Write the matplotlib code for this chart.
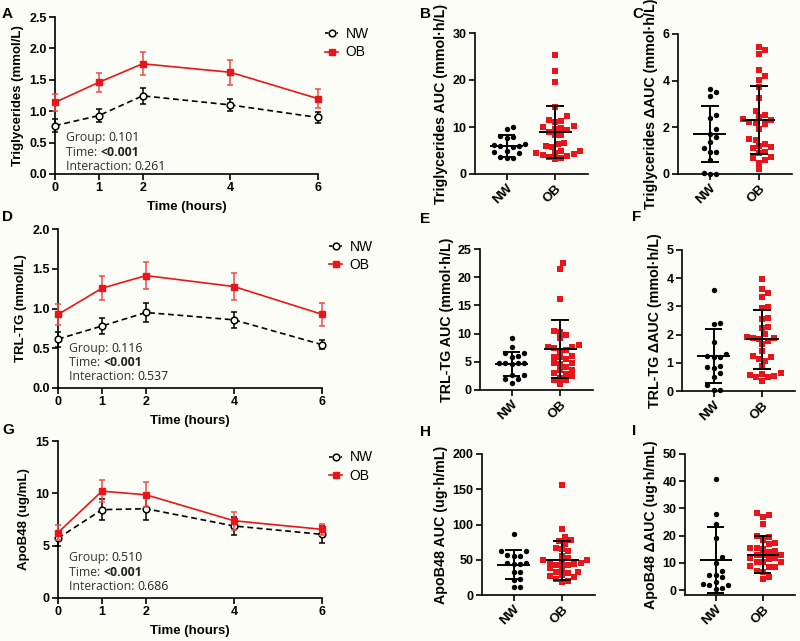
import matplotlib
matplotlib.use("Agg")
import numpy as np
import matplotlib.pyplot as plt
from matplotlib.lines import Line2D

plt.rcParams['font.family'] = ['Liberation Sans', 'DejaVu Sans']

W, H = 800, 641
BG = '#fdfdf8'
RED = '#e8161b'
RED_ERR = '#ee4a4a'

# ------------------ DATA ------------------

hours = [0, 1, 2, 4, 6]

tg_nw = [0.77, 0.93, 1.245, 1.10, 0.90]
tg_nw_se = [0.10, 0.10, 0.13, 0.10, 0.085]
tg_ob = [1.14, 1.46, 1.755, 1.62, 1.20]
tg_ob_se = [0.135, 0.155, 0.185, 0.20, 0.15]

trl_nw = [0.615, 0.78, 0.95, 0.857, 0.545]
trl_nw_se = [0.095, 0.095, 0.12, 0.105, 0.055]
trl_ob = [0.925, 1.255, 1.414, 1.276, 0.927]
trl_ob_se = [0.135, 0.15, 0.165, 0.175, 0.145]

apo_nw = [5.71, 8.44, 8.53, 6.88, 6.08]
apo_nw_se = [0.72, 0.99, 1.11, 0.85, 0.80]
apo_ob = [6.25, 10.21, 9.86, 7.38, 6.56]
apo_ob_se = [0.75, 1.08, 1.20, 0.87, 0.53]

tg_stats = ['0.101', '<0.001', '0.261']
trl_stats = ['0.116', '<0.001', '0.537']
apo_stats = ['0.510', '<0.001', '0.686']

groups = ['NW', 'OB']

# panel B
tg_auc_nw = [9.9, 9.6, 8.0, 7.8, 7.6, 6.3, 6.1, 6.0, 5.9, 5.8, 4.6, 4.4, 3.6, 3.5, 3.4, 5.0]
tg_auc_ob = [25.3, 22.0, 19.5, 14.2, 12.3, 11.4, 11.2, 11.0, 10.3, 10.0, 9.8, 9.6, 9.4, 9.0,
             8.4, 8.2, 6.6, 6.4, 5.9, 5.7, 4.9, 4.8, 4.5, 4.4, 4.3, 4.1, 3.8, 3.6, 3.4, 3.1]
tg_auc_msd = [6.0, 2.3, 9.0, 5.5]

# panel C
tg_dauc_nw = [3.53, 3.65, 3.35, 2.55, 2.4, 1.95, 1.6, 1.72, 1.38, 1.1, 0.95, 0.95, 0.58,
              0.02, 0.02, 0.05]
tg_dauc_ob = [5.45, 5.3, 5.15, 4.45, 4.2, 4.05, 3.75, 3.25, 2.7, 2.55, 2.45, 2.35, 2.3, 2.25,
              2.2, 2.15, 1.95, 1.5, 1.45, 1.3, 1.2, 1.15, 1.1, 0.95, 0.9, 0.72, 0.7, 0.62,
              0.48, 0.2]
tg_dauc_msd = [1.72, 1.19, 2.3, 1.46]

# panel E
trl_auc_nw = [9.3, 7.7, 6.6, 6.5, 6.0, 5.9, 4.8, 4.7, 4.7, 4.7, 4.6, 2.7, 2.6, 2.0, 2.0, 1.3]
trl_auc_ob = [22.5, 21.5, 16.2, 10.5, 10.3, 9.8, 9.2, 8.0, 7.7, 7.6, 7.5, 7.1, 7.0, 6.0, 5.9,
              5.8, 5.5, 4.8, 4.7, 4.6, 4.0, 3.6, 3.5, 3.0, 2.9, 2.5, 2.2, 1.8, 1.7, 1.1]
trl_auc_msd = [4.65, 2.15, 7.3, 5.2]

# panel F
trl_dauc_nw = [3.58, 2.4, 2.38, 1.75, 1.3, 1.25, 1.22, 1.2, 0.88, 0.85, 0.8, 0.65, 0.5,
               0.2, 0.02, 0.02]
trl_dauc_ob = [3.97, 3.63, 3.48, 3.35, 2.97, 2.95, 2.6, 2.55, 2.28, 2.23, 2.02, 1.9, 1.88,
               1.87, 1.86, 1.77, 1.65, 1.43, 1.24, 1.19, 1.12, 1.08, 0.88, 0.63, 0.62, 0.57,
               0.52, 0.5, 0.48, 0.37]
trl_dauc_msd = [1.25, 0.95, 1.83, 1.05]

# panel H
apo_auc_nw = [87, 63, 62, 57, 56, 56, 45, 45, 44, 44, 33, 32, 22, 21, 12, 12]
apo_auc_ob = [156, 93, 82, 78, 77, 73, 66, 65, 62, 55, 52, 50, 49, 47, 46, 45, 44, 43, 42,
              38, 37, 33, 32, 31, 28, 27, 25, 22, 20, 19]
apo_auc_msd = [43.0, 21.0, 49.0, 27.5]

# panel I
apo_dauc_nw = [40.9, 27.9, 24.3, 19.2, 12.0, 10.1, 7.0, 5.5, 5.5, 4.7, 3.1, 2.1, 2.0, 1.7,
               0.6, 0.5]
apo_dauc_ob = [28.3, 27.5, 26.8, 24.3, 20.0, 19.5, 18.4, 17.3, 17.0, 15.6, 15.4, 15.2, 14.2,
               14.0, 13.0, 12.9, 12.8, 11.8, 11.7, 11.6, 10.5, 10.4, 10.2, 8.7, 8.6, 8.5,
               6.9, 6.7, 4.9, 3.9]
apo_dauc_msd = [11.1, 12.0, 13.0, 6.8]

# ------------------ HELPERS ------------------

fig = plt.figure(figsize=(W / 100, H / 100), dpi=100, facecolor=BG)


def px_axes(l, t, r, b):
    ax = fig.add_axes([l / W, 1 - b / H, (r - l) / W, (b - t) / H])
    ax.set_facecolor('none')
    for s in ['top', 'right']:
        ax.spines[s].set_visible(False)
    for s in ['left', 'bottom']:
        ax.spines[s].set_linewidth(1.2)
    ax.tick_params(direction='out', length=4, width=1.2, labelsize=9, pad=2)
    return ax


def bold_ticks(ax):
    for lab in ax.get_xticklabels() + ax.get_yticklabels():
        lab.set_fontweight('bold')


def swarm_offsets(ax, vals, d_px):
    """Beeswarm x offsets (data units) so markers don't overlap."""
    y0, y1 = ax.get_ylim()
    x0, x1 = ax.get_xlim()
    pos = ax.get_position()
    h_px, w_px = pos.height * H, pos.width * W
    ypx = (np.asarray(vals, float) - y0) / (y1 - y0) * h_px
    steps = [0] + [s * k for k in range(1, 30) for s in (1, -1)]
    placed = []
    out = np.zeros(len(vals))
    for idx in np.argsort(ypx):
        y = ypx[idx]
        for k in steps:
            x = k * d_px / 2
            if all((x - px) ** 2 + (y - py) ** 2 >= d_px ** 2 for px, py in placed):
                break
        placed.append((x, y))
        out[idx] = x / w_px * (x1 - x0)
    return out


def line_panel(ax, nw, nw_se, ob, ob_se, ylim, yticks, ylabel, stats, stat_y, leg_y):
    c1 = ax.errorbar(hours, nw, yerr=nw_se, color='k', ls=(0, (3.5, 2.2)), lw=1.2,
                     marker='o', ms=4.8, mfc='white', mec='k', mew=1.1,
                     ecolor='k', elinewidth=1.1, capsize=2.2, capthick=1.1, zorder=3)
    c2 = ax.errorbar(hours, ob, yerr=ob_se, color=RED, lw=1.2, marker='s', ms=5,
                     mfc=RED, mec=RED, ecolor=RED_ERR, elinewidth=1.1, capsize=2.2,
                     capthick=1.1, zorder=4)
    for c in (c1, c2):
        for a in [c[0], *c[1], *c[2]]:
            a.set_clip_on(False)
    ax.set_xlim(0, 6)
    ax.set_ylim(*ylim)
    ax.set_xticks(hours)
    ax.set_yticks(yticks)
    ax.set_xlabel('Time (hours)', fontsize=9.5, fontweight='bold', labelpad=5)
    ax.set_ylabel(ylabel, fontsize=9.5, fontweight='bold')
    bold_ticks(ax)

    names = ['Group: ', 'Time: ', 'Interaction: ']
    for name, val, y in zip(names, stats, stat_y):
        t = ax.text(0.042, y, name, transform=ax.transAxes, fontsize=8.8,
                    family=['Open Sans', 'DejaVu Sans'], va='center', ha='left', color='#333333')
        ax.annotate(val, xy=(1, 0), xycoords=t, va='bottom', ha='left', fontsize=8.8,
                    family=['Open Sans', 'DejaVu Sans'], color='#222222',
                    fontweight='bold' if val.startswith('<') else 'normal')

    handles = [Line2D([], [], color='k', ls=(0, (2, 1.5)), lw=1.2, marker='o', ms=4.8,
                      mfc='white', mec='k', mew=1.1),
               Line2D([], [], color=RED, lw=1.2, marker='s', ms=5, mfc=RED, mec=RED)]
    ax.legend(handles, groups, loc='upper left', bbox_to_anchor=(1.025, leg_y),
              frameon=False, fontsize=10, handlelength=1.0, handletextpad=0.5,
              labelspacing=0.3, borderpad=0, borderaxespad=0)


def scatter_panel(ax, nw, ob, msd, ylim, yticks, ylabel):
    ax.set_xlim(-0.65, 1.68)
    ax.set_ylim(*ylim)
    ax.set_yticks(yticks)
    sets = [(nw, 'o', 'k', 15), (ob, 's', RED, 18)]
    for i, (vals, mk, col, size) in enumerate(sets):
        xs = i + swarm_offsets(ax, vals, 6.2)
        ax.scatter(xs, vals, marker=mk, s=size, c=col, lw=0, zorder=2, clip_on=False)
        m, sd = msd[2 * i], msd[2 * i + 1]
        ax.hlines(m, i - 0.34, i + 0.34, color='k', lw=1.4, zorder=5, clip_on=False)
        ax.vlines(i, m - sd, m + sd, color='k', lw=1.4, zorder=5, clip_on=False)
        ax.hlines([m - sd, m + sd], i - 0.18, i + 0.18, color='k', lw=1.4, zorder=5,
                  clip_on=False)
    ax.set_xticks([0, 1])
    ax.set_xticklabels(groups, rotation=45, ha='right', va='top', rotation_mode='anchor')
    ax.tick_params(axis='x', labelsize=9.5)
    ax.set_ylabel(ylabel, fontsize=10.3, fontweight='bold', labelpad=3)
    bold_ticks(ax)


# ------------------ FIGURE ------------------

axA = px_axes(55, 17, 318, 174)
line_panel(axA, tg_nw, tg_nw_se, tg_ob, tg_ob_se, (0, 2.5), [0, 0.5, 1.0, 1.5, 2.0, 2.5],
           'Triglycerides (mmol/L)', tg_stats, [0.23, 0.135, 0.045], 0.935)
axA.yaxis.set_major_formatter('{x:.1f}')

axD = px_axes(58, 229, 322, 388)
line_panel(axD, trl_nw, trl_nw_se, trl_ob, trl_ob_se, (0, 2.0), [0, 0.5, 1.0, 1.5, 2.0],
           'TRL-TG (mmol/L)', trl_stats, [0.25, 0.16, 0.07], 0.93)
axD.yaxis.set_major_formatter('{x:.1f}')

axG = px_axes(58, 441, 322, 598)
line_panel(axG, apo_nw, apo_nw_se, apo_ob, apo_ob_se, (0, 15), [0, 5, 10, 15],
           'ApoB48 (ug/mL)', apo_stats, [0.255, 0.165, 0.075], 0.94)

for ax in (axA, axD, axG):
    bold_ticks(ax)

axB = px_axes(475, 33, 588, 174)
scatter_panel(axB, tg_auc_nw, tg_auc_ob, tg_auc_msd, (0, 30), [0, 10, 20, 30],
              'Triglycerides AUC (mmol\u00b7h/L)')

axC = px_axes(678, 34, 792, 174)
scatter_panel(axC, tg_dauc_nw, tg_dauc_ob, tg_dauc_msd, (0, 6), [0, 2, 4, 6],
              'Triglycerides \u0394AUC (mmol\u00b7h/L)')

axE = px_axes(480, 249, 593, 390)
scatter_panel(axE, trl_auc_nw, trl_auc_ob, trl_auc_msd, (0, 25), [0, 5, 10, 15, 20, 25],
              'TRL-TG AUC (mmol\u00b7h/L)')

axF = px_axes(682, 250, 795, 391)
scatter_panel(axF, trl_dauc_nw, trl_dauc_ob, trl_dauc_msd, (0, 5), [0, 1, 2, 3, 4, 5],
              'TRL-TG \u0394AUC (mmol\u00b7h/L)')

axH = px_axes(482, 454, 595, 595)
scatter_panel(axH, apo_auc_nw, apo_auc_ob, apo_auc_msd, (0, 200), [0, 50, 100, 150, 200],
              'ApoB48 AUC (ug\u00b7h/mL)')

axI = px_axes(685, 454, 795, 595)
scatter_panel(axI, apo_dauc_nw, apo_dauc_ob, apo_dauc_msd, (-1.8, 50), [0, 10, 20, 30, 40, 50],
              'ApoB48 \u0394AUC (ug\u00b7h/mL)')

letters = [('A', 2, 14), ('B', 420, 14), ('C', 632, 14),
           ('D', 2, 217), ('E', 420, 219), ('F', 632, 217),
           ('G', 2, 430), ('H', 420, 432), ('I', 632, 431)]
for txt, x, y in letters:
    fig.text(x / W, 1 - y / H, txt, fontsize=11, fontweight='bold', va='center', ha='left')

fig.savefig('out.png', dpi=100, facecolor=BG)
